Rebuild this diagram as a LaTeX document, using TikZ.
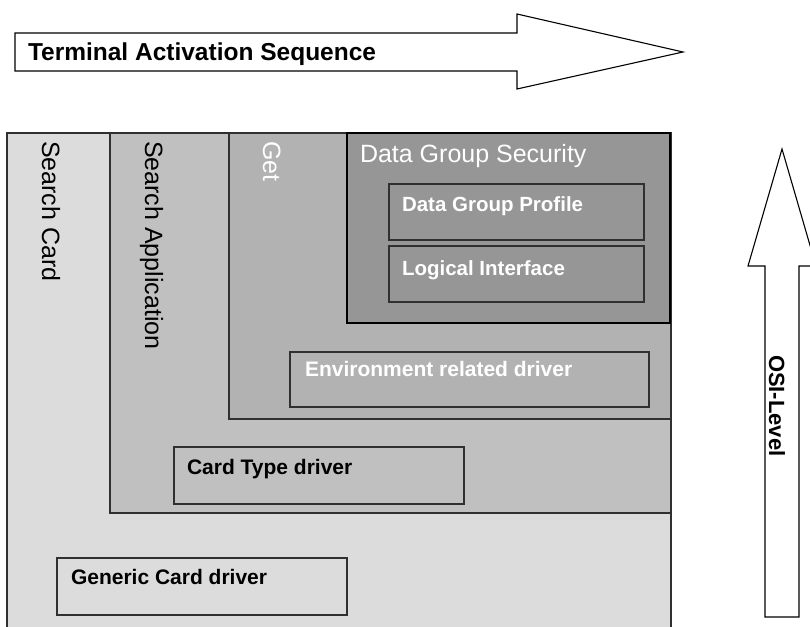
\documentclass[tikz,border=0pt]{standalone}
\usepackage{fontspec}
\setmainfont{Liberation Sans}
\newcommand\fsz[1]{\fontsize{#1}{#1}\selectfont}
\definecolor{gA}{HTML}{DCDCDC}
\definecolor{gB}{HTML}{C0C0C0}
\definecolor{gC}{HTML}{B2B2B2}
\definecolor{gD}{HTML}{969696}
\definecolor{edge}{HTML}{303030}
\begin{document}
\begin{tikzpicture}[x=1pt,y=1pt,
  box/.style={draw=edge,line width=1.3pt,inner sep=0pt,outer sep=0pt,anchor=north west},
  lbl/.style={inner sep=0pt,outer sep=0pt,anchor=base west},
  wlbl/.style={lbl,text=white},
  arrowshape/.style={draw=black,line width=1.1pt,fill=white,line join=miter}]
\useasboundingbox (0,0) rectangle (810,-626);
\clip (0,0) rectangle (810,-626);
\fill[white] (0,0) rectangle (810,-626);
% top arrow
\draw[arrowshape] (15,-33) -- (517,-33) -- (517,-14) -- (683,-52) -- (517,-89) -- (517,-71) -- (15,-71) -- cycle;
\node[lbl] (tas) at (28,-60) {\fsz{24.5}\bfseries Terminal Activation Sequence};
% OSI arrow
\draw[arrowshape] (765,-617) -- (765,-266) -- (748,-266) -- (782,-149) -- (816,-266) -- (799,-266) -- (799,-617) -- cycle;
\node[lbl,rotate=-90] (osi) at (769,-355) {\fsz{22}\bfseries OSI-Level};
% nested layers
\node[box,fill=gA,minimum width=664pt,minimum height=520pt] (card) at (7,-133) {};
\node[box,fill=gB,minimum width=561pt,minimum height=380pt] (app) at (110,-133) {};
\node[box,fill=gC,minimum width=442pt,minimum height=286pt] (get) at (229,-133) {};
\node[box,fill=gD,minimum width=323pt,minimum height=190pt,draw=black] (dgs) at (347,-133) {};
\node[box,fill=gD,minimum width=255pt,minimum height=56pt] (dgp) at (389,-184) {};
\node[box,fill=gD,minimum width=255pt,minimum height=56pt] (li) at (389,-246) {};
\node[box,fill=gC,minimum width=359pt,minimum height=55pt] (env) at (290,-352) {};
\node[box,fill=gB,minimum width=290pt,minimum height=57pt] (ctd) at (174,-447) {};
\node[box,fill=gA,minimum width=290pt,minimum height=57pt] (gcd) at (57,-558) {};
% labels
\node[lbl,rotate=-90] (tsc) at (42,-141) {\fsz{25}Search Card};
\node[lbl,rotate=-90] (tsa) at (145,-141) {\fsz{25}Search Application};
\node[wlbl,rotate=-90] (tget) at (263,-141) {\fsz{25}Get};
\node[wlbl] (tdgs) at (360,-162.5) {\fsz{25}Data Group Security};
\node[wlbl] (tdgp) at (402,-211.5) {\fsz{20.5}\bfseries Data Group Profile};
\node[wlbl] (tli) at (402,-275) {\fsz{20.5}\bfseries Logical Interface};
\node[wlbl] (tenv) at (305,-376.5) {\fsz{21}\bfseries Environment related driver};
\node[lbl] (tctd) at (187,-474) {\fsz{21}\bfseries Card Type driver};
\node[lbl] (tgcd) at (71,-584) {\fsz{21}\bfseries Generic Card driver};
\end{tikzpicture}
\end{document}
